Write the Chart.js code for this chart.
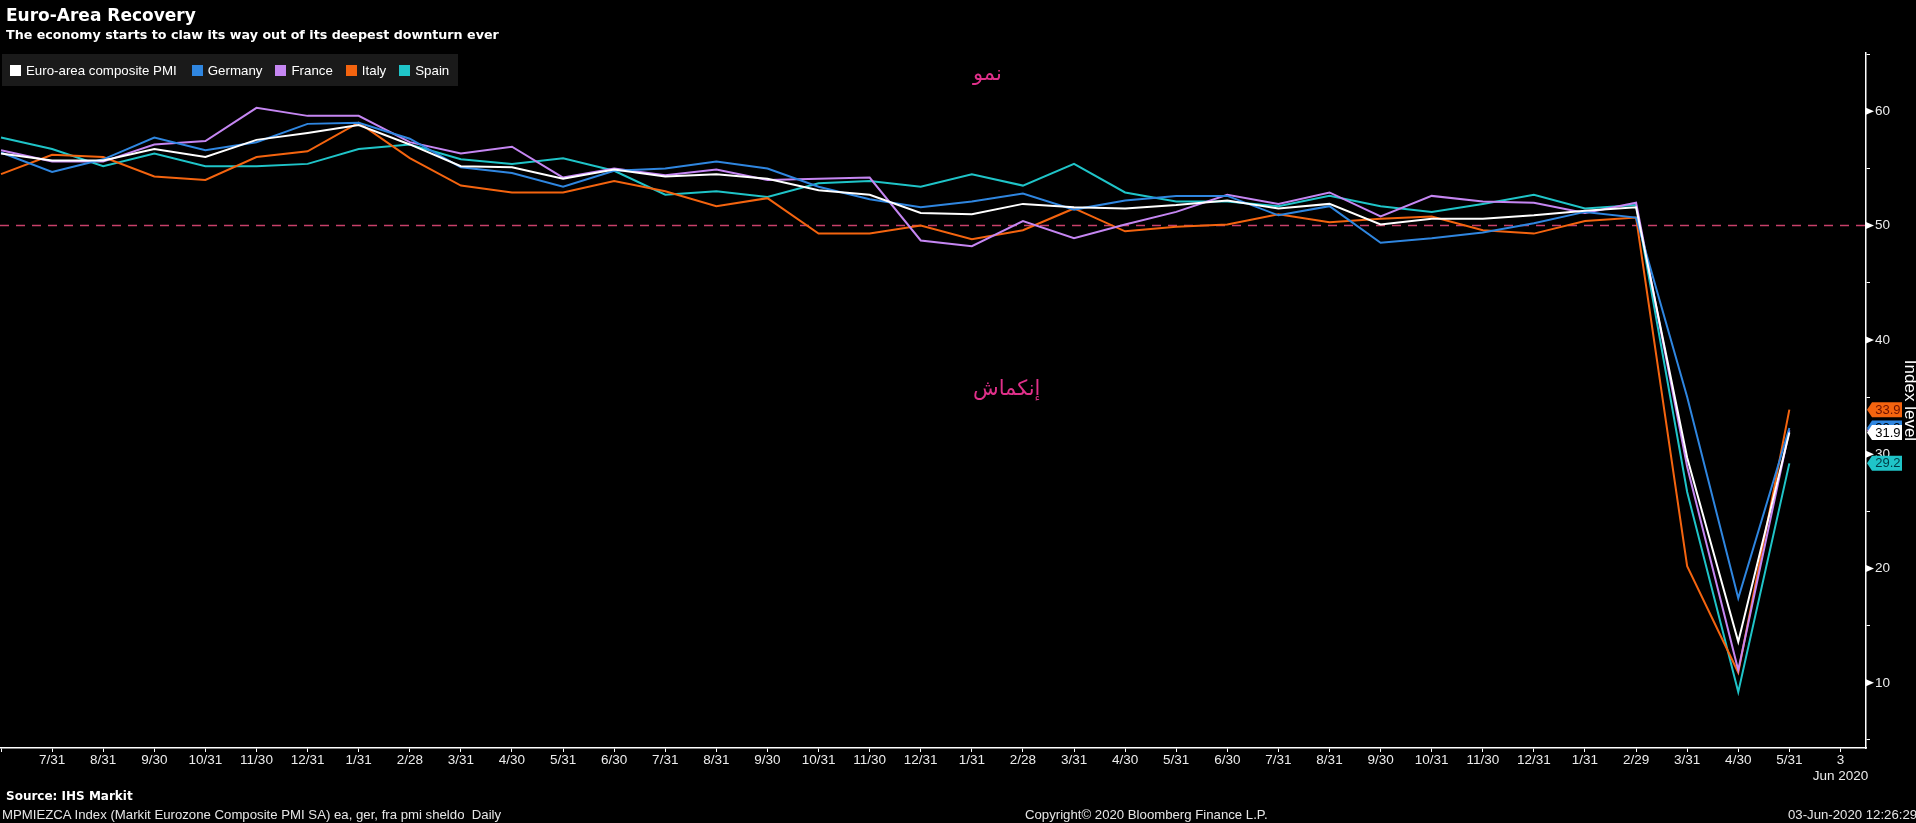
<!DOCTYPE html>
<html>
<head>
<meta charset="utf-8">
<script src="https://cdn.jsdelivr.net/npm/chart.js@4.4.1/dist/chart.umd.min.js"></script>
<style>
  html, body { margin: 0; padding: 0; background: #000; overflow: hidden; }
  #wrap { position: relative; width: 1916px; height: 823px; background: #000; }
  #chart { position: absolute; left: 0; top: 0; }
  .txt { position: absolute; color: #fff; white-space: nowrap; }
  #title { left: 6px; top: 4px; font: bold 17px 'DejaVu Sans', sans-serif; line-height: 22px; }
  #subtitle { left: 6px; top: 26px; font: bold 12.7px 'DejaVu Sans', sans-serif; line-height: 18px; }
  #legend { position: absolute; left: 2px; top: 54px; width: 456px; height: 32px; background: #1a1a1a;
            display: flex; align-items: center; font: 13.3px 'Liberation Sans', Arial, sans-serif; color: #fff;
            white-space: nowrap; }
  #legend .item { display: flex; align-items: center; margin-right: 13px; flex-shrink: 0; }
  #legend .item:first-child { margin-left: 8px; margin-right: 15px; }
  #legend .sw { width: 11px; height: 11px; margin-right: 5px; flex-shrink: 0; }
  .ar { position: absolute; color: #e0308a; font: 21px 'DejaVu Sans', sans-serif; line-height: 24px; direction: rtl; white-space: nowrap; }
  .foot { position: absolute; color: #e6e6e6; font: 13.2px 'Liberation Sans', Arial, sans-serif; line-height: 16px; white-space: nowrap; }
  #source { left: 6px; top: 789px; font: bold 12px 'DejaVu Sans', sans-serif; color: #fff; }
</style>
</head>
<body>
<div id="wrap">
  <canvas id="chart" width="1916" height="823"></canvas>
  <div class="txt" id="title">Euro-Area Recovery</div>
  <div class="txt" id="subtitle">The economy starts to claw its way out of its deepest downturn ever</div>
  <div id="legend"></div>
  <div class="ar" id="growth" style="left:973px; top:61px;">نمو</div>
  <div class="ar" id="contraction" style="left:973px; top:376px;">إنكماش</div>
  <div class="foot" id="source">Source: IHS Markit</div>
  <div class="foot" style="left:2px; top:807px;">MPMIEZCA Index (Markit Eurozone Composite PMI SA) ea, ger, fra pmi sheldo&nbsp; Daily</div>
  <div class="foot" style="left:1025px; top:807px;">Copyright© 2020 Bloomberg Finance L.P.</div>
  <div class="foot" style="left:1788px; top:807px;">03-Jun-2020 12:26:29</div>
</div>

<script>
// Month-end observations, Jun 2017 .. May 2020
const xTickLabels = ['', '7/31', '8/31', '9/30', '10/31', '11/30', '12/31',
  '1/31', '2/28', '3/31', '4/30', '5/31', '6/30', '7/31', '8/31', '9/30', '10/31', '11/30', '12/31',
  '1/31', '2/28', '3/31', '4/30', '5/31', '6/30', '7/31', '8/31', '9/30', '10/31', '11/30', '12/31',
  '1/31', '2/29', '3/31', '4/30', '5/31', ['3', 'Jun 2020']];

const seriesNames = ['Euro-area composite PMI', 'Germany', 'France', 'Italy', 'Spain'];
const seriesColors = ['#ffffff', '#2f86e0', '#c586f2', '#f4640f', '#1fc4c8'];
const tagTextColors = ['#000000', '#000000', '#000000', '#6e1200', '#003a44'];

const euroArea = [56.3, 55.7, 55.7, 56.7, 56.0, 57.5, 58.1, 58.8, 57.1, 55.2, 55.1, 54.1,
  54.9, 54.3, 54.5, 54.1, 53.1, 52.7, 51.1, 51.0, 51.9, 51.6, 51.5, 51.8,
  52.2, 51.5, 51.9, 50.1, 50.6, 50.6, 50.9, 51.3, 51.6, 29.7, 13.6, 31.9];
const germany = [56.4, 54.7, 55.8, 57.7, 56.6, 57.3, 58.9, 59.0, 57.6, 55.1, 54.6, 53.4,
  54.8, 55.0, 55.6, 55.0, 53.4, 52.3, 51.6, 52.1, 52.8, 51.4, 52.2, 52.6,
  52.6, 50.9, 51.7, 48.5, 48.9, 49.4, 50.2, 51.2, 50.7, 35.0, 17.4, 32.3];
const france = [56.6, 55.6, 55.6, 57.1, 57.4, 60.3, 59.6, 59.6, 57.3, 56.3, 56.9, 54.2,
  55.0, 54.4, 54.9, 54.0, 54.1, 54.2, 48.7, 48.2, 50.4, 48.9, 50.1, 51.2,
  52.7, 51.9, 52.9, 50.8, 52.6, 52.1, 52.0, 51.1, 52.0, 28.9, 11.1, 32.1];
const italy = [54.5, 56.2, 56.0, 54.3, 54.0, 56.0, 56.5, 59.0, 55.9, 53.5, 52.9, 52.9,
  53.9, 53.0, 51.7, 52.4, 49.3, 49.3, 50.0, 48.8, 49.6, 51.5, 49.5, 49.9,
  50.1, 51.0, 50.3, 50.6, 50.8, 49.6, 49.3, 50.4, 50.7, 20.2, 10.9, 33.9];
const spain = [57.7, 56.7, 55.2, 56.3, 55.2, 55.2, 55.4, 56.7, 57.1, 55.8, 55.4, 55.9,
  54.8, 52.7, 53.0, 52.5, 53.7, 53.9, 53.4, 54.5, 53.5, 55.4, 52.9, 52.1,
  52.1, 51.7, 52.6, 51.7, 51.2, 51.9, 52.7, 51.5, 51.8, 26.7, 9.2, 29.2];

const thresholdLevel = 50;
const yTickValues = [5, 10, 15, 20, 25, 30, 35, 40, 45, 50, 55, 60, 65];
const xMin = -0.02, xMax = 36.5;
const yMin = 4.3, yMax = 65.1;

const allSeries = [euroArea, germany, france, italy, spain];
const tagOrder = [2, 1, 0, 3, 4]; // later ones are drawn on top

const AXIS_FONT = "'Liberation Sans', Arial, sans-serif";

// legend
const legendEl = document.getElementById('legend');
seriesNames.forEach((name, i) => {
  const item = document.createElement('div');
  item.className = 'item';
  item.innerHTML = `<span class="sw" style="background:${seriesColors[i]}"></span><span>${name}</span>`;
  legendEl.appendChild(item);
});

const toPoints = arr => arr.map((v, i) => ({ x: i, y: v }));

const datasets = allSeries.map((arr, i) => ({
  label: seriesNames[i],
  data: toPoints(arr),
  borderColor: seriesColors[i],
  borderWidth: 2,
  pointRadius: 0,
  tension: 0
}));

datasets.push({
  label: 'threshold',
  data: [{ x: xMin, y: thresholdLevel }, { x: xMax, y: thresholdLevel }],
  borderColor: '#c8406a',
  borderWidth: 1.5,
  borderDash: [9, 7],
  pointRadius: 0
});

// arrows on major y ticks and last-value tags
const axisDecor = {
  id: 'axisDecor',
  afterDraw(chart) {
    const ctx = chart.ctx;
    const ys = chart.scales.y;
    const x0 = ys.left;
    ctx.save();
    ctx.fillStyle = '#ffffff';
    ys.ticks.forEach(t => {
      if (t.value % 10 !== 0) return;
      const py = ys.getPixelForValue(t.value);
      ctx.beginPath();
      ctx.moveTo(x0, py - 3.5);
      ctx.lineTo(x0 + 8, py);
      ctx.lineTo(x0, py + 3.5);
      ctx.closePath();
      ctx.fill();
    });

    ctx.font = "13px " + AXIS_FONT;
    ctx.textBaseline = 'middle';
    ctx.textAlign = 'right';
    tagOrder.forEach(i => {
      const arr = allSeries[i];
      const v = arr[arr.length - 1];
      const py = ys.getPixelForValue(v);
      ctx.fillStyle = seriesColors[i];
      ctx.beginPath();
      ctx.moveTo(x0 + 1, py);
      ctx.lineTo(x0 + 6, py - 7.5);
      ctx.lineTo(x0 + 36, py - 7.5);
      ctx.lineTo(x0 + 36, py + 7.5);
      ctx.lineTo(x0 + 6, py + 7.5);
      ctx.closePath();
      ctx.fill();
      ctx.fillStyle = tagTextColors[i];
      ctx.fillText(v.toFixed(1), x0 + 34.5, py + 0.5);
    });
    ctx.restore();
  }
};

new Chart(document.getElementById('chart'), {
  type: 'line',
  data: { datasets },
  plugins: [axisDecor],
  options: {
    responsive: false,
    animation: false,
    layout: { padding: { top: 53, left: 0, right: 0, bottom: 0 } },
    plugins: { legend: { display: false }, tooltip: { enabled: false } },
    scales: {
      x: {
        type: 'linear',
        min: xMin,
        max: xMax,
        afterBuildTicks: s => { s.ticks = xTickLabels.map((l, i) => ({ value: i })); },
        afterFit: s => { s.height = 75; },
        grid: { drawOnChartArea: false, tickLength: 4, color: '#ffffff' },
        border: { color: '#ffffff', width: 1.5 },
        ticks: {
          color: '#ececec',
          font: { family: AXIS_FONT, size: 13.5 },
          padding: 0,
          maxRotation: 0,
          autoSkip: false,
          callback: (v, i) => xTickLabels[i]
        }
      },
      y: {
        position: 'right',
        min: yMin,
        max: yMax,
        afterBuildTicks: s => { s.ticks = yTickValues.map(v => ({ value: v })); },
        afterFit: s => { s.width = 50; },
        grid: { drawOnChartArea: false, tickLength: 4, color: '#ffffff' },
        border: { color: '#ffffff', width: 1.5 },
        ticks: {
          color: '#ececec',
          font: { family: AXIS_FONT, size: 13.5 },
          padding: 5,
          callback: v => (v % 10 === 0 ? String(v) : '')
        },
        title: {
          display: true,
          text: 'Index level',
          color: '#ffffff',
          font: { family: AXIS_FONT, size: 17, lineHeight: 0.7 },
          padding: 0
        }
      }
    }
  }
});
</script>
</body>
</html>
